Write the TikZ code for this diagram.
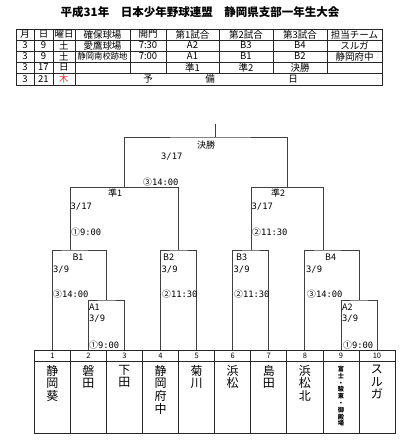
\documentclass[tikz,border=0pt]{standalone}
\usepackage{fontspec}
\setmainfont{Noto Sans CJK JP}
\newfontfamily\jpfont{Noto Sans CJK JP}
\newfontfamily\monofnt{DejaVu Sans Mono}
\definecolor{kired}{RGB}{214,52,52}

\begin{document}
\begin{tikzpicture}[
    x=1pt, y=-1pt,
    title/.style={font=\bfseries\fontsize{11.5}{12}\selectfont, inner sep=0pt},
    cell/.style={font=\fontsize{9.5}{9.5}\selectfont, inner sep=0pt},
    grid/.style={draw=black!85, line width=0.6pt},
    bline/.style={draw=black!75, line width=0.7pt},
    mlabel/.style={font=\fontsize{9}{9}\selectfont, inner sep=0pt},
    tlabel/.style={anchor=west, font=\monofnt\fontsize{8.8}{9}\selectfont, inner sep=0pt},
    numcell/.style={draw=black!85, line width=0.6pt, minimum width=36.07pt, minimum height=11pt, inner sep=0pt, font=\fontsize{7.5}{7.5}\selectfont},
    namecell/.style={draw=black!85, line width=0.6pt, minimum width=36.07pt, minimum height=72pt, inner sep=0pt},
    teamname/.style={anchor=north, align=center, inner sep=0pt, font=\fontsize{12}{12.6}\selectfont},
    smallname/.style={anchor=north, align=center, inner sep=0pt, font=\bfseries\fontsize{6.2}{6.8}\selectfont}
]
\useasboundingbox (0,0) rectangle (400,440);

% title
\node[title] (title) at (200,12.5) {平成31年　日本少年野球連盟　静岡県支部一年生大会};

% schedule table
\draw[grid] (16,29) rectangle (382,85);
\draw[grid] (16,40) -- (382,40);
\draw[grid] (16,51) -- (382,51);
\draw[grid] (16,62) -- (382,62);
\draw[grid] (16,73) -- (382,73);
\draw[grid] (34,29) -- (34,85);
\draw[grid] (53,29) -- (53,85);
\draw[grid] (75,29) -- (75,85);
\draw[grid] (130,29) -- (130,73);
\draw[grid] (166,29) -- (166,73);
\draw[grid] (219,29) -- (219,73);
\draw[grid] (273,29) -- (273,73);
\draw[grid] (327,29) -- (327,73);

\node[cell] (hd1) at (25,34.5) {月};
\node[cell] (hd2) at (43.5,34.5) {日};
\node[cell] (hd3) at (64,34.5) {曜日};
\node[cell] (hd4) at (102.5,34.5) {確保球場};
\node[cell] (hd5) at (148,34.5) {開門};
\node[cell] (hd6) at (192.5,34.5) {第1試合};
\node[cell] (hd7) at (246,34.5) {第2試合};
\node[cell] (hd8) at (300,34.5) {第3試合};
\node[cell] (hd9) at (354.5,34.5) {担当チーム};

\node[cell] (ra1) at (25,45.5) {3};
\node[cell] (ra2) at (43.5,45.5) {9};
\node[cell] (ra3) at (64,45.5) {土};
\node[cell] (ra4) at (102.5,45.5) {愛鷹球場};
\node[cell] (ra5) at (148,45.5) {7:30};
\node[cell] (ra6) at (192.5,45.5) {A2};
\node[cell] (ra7) at (246,45.5) {B3};
\node[cell] (ra8) at (300,45.5) {B4};
\node[cell] (ra9) at (354.5,45.5) {スルガ};

\node[cell] (rb1) at (25,56.5) {3};
\node[cell] (rb2) at (43.5,56.5) {9};
\node[cell] (rb3) at (64,56.5) {土};
\node[cell, font=\fontsize{8.3}{8.3}\selectfont] (rb4) at (102.5,56.5) {静岡南校跡地};
\node[cell] (rb5) at (148,56.5) {7:00};
\node[cell] (rb6) at (192.5,56.5) {A1};
\node[cell] (rb7) at (246,56.5) {B1};
\node[cell] (rb8) at (300,56.5) {B2};
\node[cell] (rb9) at (354.5,56.5) {静岡府中};

\node[cell] (rc1) at (25,67.5) {3};
\node[cell] (rc2) at (43.5,67.5) {17};
\node[cell] (rc3) at (64,67.5) {日};
\node[cell] (rc6) at (192.5,67.5) {準1};
\node[cell] (rc7) at (246,67.5) {準2};
\node[cell] (rc8) at (300,67.5) {決勝};

\node[cell] (rd1) at (25,79) {3};
\node[cell] (rd2) at (43.5,79) {21};
\node[cell, text=kired] (rd3) at (64,79) {木};
\node[cell] (rd4) at (148,79) {予};
\node[cell] (rd5) at (210,79) {備};
\node[cell] (rd6) at (293,79) {日};

% team cells
\node[numcell] (t1) at (52.34,355.5) {1};
\node[numcell] (t2) at (88.41,355.5) {2};
\node[numcell] (t3) at (124.48,355.5) {3};
\node[numcell] (t4) at (160.55,355.5) {4};
\node[numcell] (t5) at (196.62,355.5) {5};
\node[numcell] (t6) at (232.69,355.5) {6};
\node[numcell] (t7) at (268.76,355.5) {7};
\node[numcell] (t8) at (304.83,355.5) {8};
\node[numcell] (t9) at (340.90,355.5) {9};
\node[numcell] (t10) at (376.97,355.5) {10};

\node[namecell] (n1) at (52.34,397) {};
\node[namecell] (n2) at (88.41,397) {};
\node[namecell] (n3) at (124.48,397) {};
\node[namecell] (n4) at (160.55,397) {};
\node[namecell] (n5) at (196.62,397) {};
\node[namecell] (n6) at (232.69,397) {};
\node[namecell] (n7) at (268.76,397) {};
\node[namecell] (n8) at (304.83,397) {};
\node[namecell] (n9) at (340.90,397) {};
\node[namecell] (n10) at (376.97,397) {};

\node[teamname] (nm1) at (52.34,365) {静\\岡\\葵};
\node[teamname] (nm2) at (88.41,365) {磐\\田};
\node[teamname] (nm3) at (124.48,365) {下\\田};
\node[teamname] (nm4) at (160.55,365) {静\\岡\\府\\中};
\node[teamname] (nm5) at (196.62,365) {菊\\川};
\node[teamname] (nm6) at (232.69,365) {浜\\松};
\node[teamname] (nm7) at (268.76,365) {島\\田};
\node[teamname] (nm8) at (304.83,365) {浜\\松\\北};
\node[smallname] (nm9) at (340.90,366) {富\\士\\・\\駿\\東\\・\\御\\殿\\場};
\node[teamname] (nm10) at (376.97,365) {ス\\ル\\ガ};

% bracket
\coordinate (mA1) at (106.7,300);
\coordinate (mA2) at (359.3,300);
\coordinate (mB1) at (70.3,250);
\coordinate (mB2) at (178.7,250);
\coordinate (mB3) at (251,250);
\coordinate (mB4) at (323.3,250);
\coordinate (mS1) at (124.6,187.7);
\coordinate (mS2) at (287.2,187.7);
\coordinate (mF) at (215,137);
\coordinate (champ) at (215,124);

\draw[bline] (t2.north) |- (mA1) -| (t3.north);
\draw[bline] (t9.north) |- (mA2) -| (t10.north);
\draw[bline] (t1.north) |- (mB1) -| (mA1);
\draw[bline] (t4.north) |- (mB2) -| (t5.north);
\draw[bline] (t6.north) |- (mB3) -| (t7.north);
\draw[bline] (t8.north) |- (mB4) -| (mA2);
\draw[bline] (mB1) |- (mS1) -| (mB2);
\draw[bline] (mB3) |- (mS2) -| (mB4);
\draw[bline] (mS1) |- (mF) -| (mS2);
\draw[bline] (mF) -- (champ);

% match labels
\node[mlabel] (lF) at (206,145) {決勝};
\node[tlabel] (dF) at (161,157) {3/17};
\node[tlabel] (tF) at (143,182) {{\jpfont ③}14:00};

\node[mlabel] (lS1) at (115,193) {準1};
\node[tlabel] (dS1) at (70.5,207) {3/17};
\node[tlabel] (tS1) at (71,232) {{\jpfont ①}9:00};

\node[mlabel] (lS2) at (278,193) {準2};
\node[tlabel] (dS2) at (251.5,207) {3/17};
\node[tlabel] (tS2) at (252,232) {{\jpfont ②}11:30};

\node[mlabel] (lB1) at (78,257) {B1};
\node[tlabel] (dB1) at (53,270) {3/9};
\node[tlabel] (tB1) at (53,294) {{\jpfont ③}14:00};

\node[mlabel, anchor=west] (lA1) at (89,307) {A1};
\node[tlabel] (dA1) at (89,319) {3/9};
\node[tlabel] (tA1) at (89,345) {{\jpfont ①}9:00};

\node[mlabel, anchor=west] (lB2) at (163,257) {B2};
\node[tlabel] (dB2) at (161.5,270) {3/9};
\node[tlabel] (tB2) at (162,294) {{\jpfont ②}11:30};

\node[mlabel, anchor=west] (lB3) at (236,257) {B3};
\node[tlabel] (dB3) at (233.5,270) {3/9};
\node[tlabel] (tB3) at (234,294) {{\jpfont ②}11:30};

\node[mlabel, anchor=west] (lB4) at (325,257) {B4};
\node[tlabel] (dB4) at (306,270) {3/9};
\node[tlabel] (tB4) at (307,294) {{\jpfont ③}14:00};

\node[mlabel, anchor=west] (lA2) at (342,307) {A2};
\node[tlabel] (dA2) at (342,319) {3/9};
\node[tlabel] (tA2) at (343,345) {{\jpfont ①}9:00};

\end{tikzpicture}
\end{document}
